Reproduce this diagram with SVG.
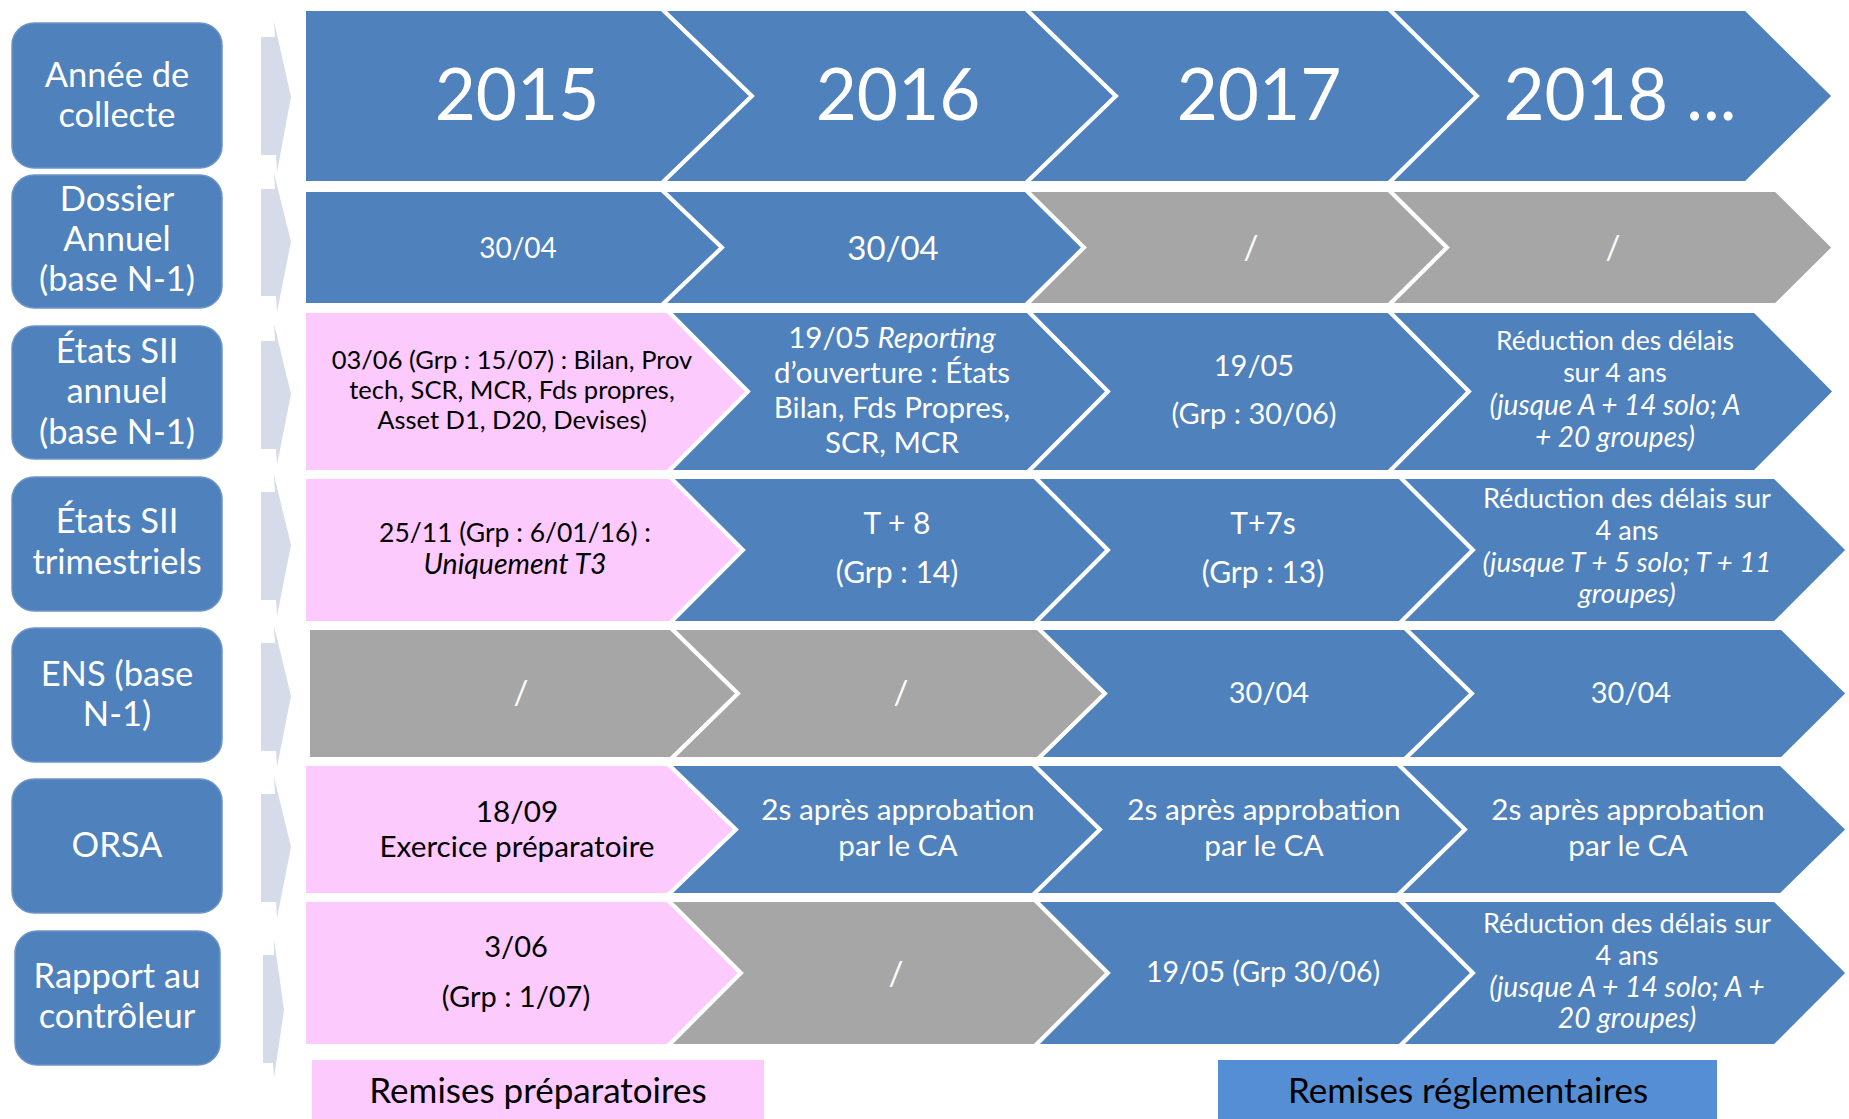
<svg xmlns="http://www.w3.org/2000/svg" width="1849" height="1119" viewBox="0 0 1849 1119">
<style>
.lbl rect{fill:#4f81bd;stroke:#6d94c8;stroke-width:1.5}
.lt{font-family:Lato,"Open Sans",sans-serif;fill:#fff;text-anchor:middle}
.bt{font-family:Lato,"Open Sans",sans-serif;fill:#000;text-anchor:middle}
.b{fill:#4f81bd;stroke:#fff;stroke-width:4;stroke-linejoin:miter}
.g{fill:#a6a6a6;stroke:#fff;stroke-width:4;stroke-linejoin:miter}
.p{fill:#fdcafd;stroke:#fff;stroke-width:4;stroke-linejoin:miter}
.arr{fill:#d5dbe8}
.i{font-style:italic}
</style>
<rect width="1849" height="1119" fill="#fff"/>

<g id="connectors">
<polygon class="arr" points="261,37 275,37 274,21 291,97 277,172 276,155 261,155"/>
<polygon class="arr" points="261,189 275,189 274,173 291,242 277,312 276,296 261,296"/>
<polygon class="arr" points="261,341 275,341 274,324 291,394 277,465 276,449 261,449"/>
<polygon class="arr" points="261,492 275,492 274,475 291,545 277,616 276,600 261,600"/>
<polygon class="arr" points="261,643 275,643 274,626 291,696 277,767 276,751 261,751"/>
<polygon class="arr" points="261,794 275,794 274,777 291,847 277,918 276,902 261,902"/>
<polygon class="arr" points="263,955 274,955 274,939 284,1010 274,1078 273,1063 263,1063"/>
</g>

<g id="label-annee" class="lbl"><rect x="12" y="23" width="210" height="145" rx="22"/>
<text class="lt" font-size="34.5"><tspan x="117" y="87">Année de</tspan><tspan x="117" y="127">collecte</tspan></text></g>
<g id="label-dossier" class="lbl"><rect x="12" y="175" width="210" height="133" rx="22"/>
<text class="lt" font-size="34.5"><tspan x="117" y="211">Dossier</tspan><tspan x="117" y="251">Annuel</tspan><tspan x="117" y="291">(base N-1)</tspan></text></g>
<g id="label-sii-annuel" class="lbl"><rect x="12" y="326" width="210" height="133" rx="22"/>
<text class="lt" font-size="34.5"><tspan x="117" y="363">États SII</tspan><tspan x="117" y="403">annuel</tspan><tspan x="117" y="444">(base N-1)</tspan></text></g>
<g id="label-sii-trim" class="lbl"><rect x="12" y="477" width="210" height="134" rx="22"/>
<text class="lt" font-size="34.5"><tspan x="117" y="533">États SII</tspan><tspan x="117" y="574">trimestriels</tspan></text></g>
<g id="label-ens" class="lbl"><rect x="12" y="628" width="210" height="134" rx="22"/>
<text class="lt" font-size="34.5"><tspan x="117" y="686">ENS (base</tspan><tspan x="117" y="726">N-1)</tspan></text></g>
<g id="label-orsa" class="lbl"><rect x="12" y="779" width="210" height="134" rx="22"/>
<text class="lt" font-size="34.5"><tspan x="117" y="857">ORSA</tspan></text></g>
<g id="label-rapport" class="lbl"><rect x="15" y="931" width="205" height="134" rx="22"/>
<text class="lt" font-size="34.5"><tspan x="117" y="988">Rapport au</tspan><tspan x="117" y="1028">contrôleur</tspan></text></g>

<!-- Row 1 -->
<g id="r1c1"><polygon class="b" points="304,9 662,9 752,96 662,183 304,183"/><text class="lt" font-size="71" x="517" y="120">2015</text></g>
<g id="r1c2"><polygon class="b" points="662,9 1026,9 1116,96 1026,183 662,183 752,96"/><text class="lt" font-size="71" x="898" y="120">2016</text></g>
<g id="r1c3"><polygon class="b" points="1026,9 1389,9 1477,96 1389,183 1026,183 1116,96"/><text class="lt" font-size="71" x="1259" y="120">2017</text></g>
<g id="r1c4"><polygon class="b" points="1389,9 1746,9 1834,96 1746,183 1389,183 1477,96"/><text class="lt" font-size="71" x="1620" y="120">2018 ...</text></g>

<!-- Row 2 -->
<g id="r2c1"><polygon class="b" points="304,190 662,190 722,247.5 662,305 304,305"/><text class="lt" font-size="28" x="518" y="258">30/04</text></g>
<g id="r2c2"><polygon class="b" points="662,190 1026,190 1084,247.5 1026,305 662,305 722,247.5"/><text class="lt" font-size="33" x="893" y="260">30/04</text></g>
<g id="r2c3"><polygon class="g" points="1026,190 1389,190 1447,247.5 1389,305 1026,305 1084,247.5"/><text class="lt" font-size="33" x="1251" y="259">/</text></g>
<g id="r2c4"><polygon class="g" points="1389,190 1776,190 1834,247.5 1776,305 1389,305 1447,247.5"/><text class="lt" font-size="33" x="1613" y="259">/</text></g>

<!-- Row 3 -->
<g id="r3c1"><polygon class="p" points="304,311 668,311 748,391.5 668,472 304,472"/>
<text class="bt" font-size="25.5"><tspan x="512" y="369">03/06 (Grp : 15/07) : Bilan, Prov</tspan><tspan x="512" y="399">tech, SCR, MCR, Fds propres,</tspan><tspan x="512" y="429">Asset D1, D20, Devises)</tspan></text></g>
<g id="r3c2"><polygon class="b" points="668,311 1028,311 1108,391.5 1028,472 668,472 748,391.5"/>
<text class="lt" font-size="29.5"><tspan x="892" y="348">19/05 <tspan class="i">Reporting</tspan></tspan><tspan x="892" y="383">d’ouverture : États</tspan><tspan x="892" y="418">Bilan, Fds Propres,</tspan><tspan x="892" y="453">SCR, MCR</tspan></text></g>
<g id="r3c3"><polygon class="b" points="1028,311 1389,311 1469,391.5 1389,472 1028,472 1108,391.5"/>
<text class="lt" font-size="29"><tspan x="1254" y="376">19/05</tspan><tspan x="1254" y="424">(Grp : 30/06)</tspan></text></g>
<g id="r3c4"><polygon class="b" points="1389,311 1755,311 1835,391.5 1755,472 1389,472 1469,391.5"/>
<text class="lt" font-size="26.5"><tspan x="1615" y="350">Réduction des délais</tspan><tspan x="1615" y="382">sur 4 ans</tspan><tspan x="1615" y="415" class="i" font-size="28">(jusque A + 14 solo; A</tspan><tspan x="1615" y="447" class="i" font-size="28">+ 20 groupes)</tspan></text></g>

<!-- Row 4 -->
<g id="r4c1"><polygon class="p" points="304,477 670,477 743,550 670,623 304,623"/>
<text class="bt" font-size="26.5"><tspan x="515" y="542">25/11 (Grp : 6/01/16) :</tspan><tspan x="515" y="574" class="i" font-size="28.5">Uniquement T3</tspan></text></g>
<g id="r4c2"><polygon class="b" points="670,477 1035,477 1108,550 1035,623 670,623 743,550"/>
<text class="lt" font-size="30"><tspan x="897" y="534">T + 8</tspan><tspan x="897" y="583">(Grp : 14)</tspan></text></g>
<g id="r4c3"><polygon class="b" points="1035,477 1400,477 1473,550 1400,623 1035,623 1108,550"/>
<text class="lt" font-size="30"><tspan x="1263" y="534">T+7s</tspan><tspan x="1263" y="583">(Grp : 13)</tspan></text></g>
<g id="r4c4"><polygon class="b" points="1400,477 1775,477 1848,550 1775,623 1400,623 1473,550"/>
<text class="lt" font-size="27.2"><tspan x="1627" y="508">Réduction des délais sur</tspan><tspan x="1627" y="540">4 ans</tspan><tspan x="1627" y="572" class="i" font-size="27.8">(jusque T + 5 solo; T + 11</tspan><tspan x="1627" y="603" class="i" font-size="27.8">groupes)</tspan></text></g>

<!-- Row 5 -->
<g id="r5c1"><polygon class="g" points="308,628 671,628 738,693.5 671,759 308,759"/><text class="lt" font-size="33" x="521" y="704">/</text></g>
<g id="r5c2"><polygon class="g" points="671,628 1038,628 1105,693.5 1038,759 671,759 738,693.5"/><text class="lt" font-size="33" x="901" y="704">/</text></g>
<g id="r5c3"><polygon class="b" points="1038,628 1405,628 1472,693.5 1405,759 1038,759 1105,693.5"/><text class="lt" font-size="29" x="1269" y="703">30/04</text></g>
<g id="r5c4"><polygon class="b" points="1405,628 1782,628 1848,693.5 1782,759 1405,759 1472,693.5"/><text class="lt" font-size="29" x="1631" y="703">30/04</text></g>

<!-- Row 6 -->
<g id="r6c1"><polygon class="p" points="304,764 668,764 736,829.5 668,895 304,895"/>
<text class="bt" font-size="29.7"><tspan x="517" y="822">18/09</tspan><tspan x="517" y="857">Exercice préparatoire</tspan></text></g>
<g id="r6c2"><polygon class="b" points="668,764 1033,764 1100,829.5 1033,895 668,895 736,829.5"/>
<text class="lt" font-size="29.7"><tspan x="898" y="820">2s après approbation</tspan><tspan x="898" y="856">par le CA</tspan></text></g>
<g id="r6c3"><polygon class="b" points="1033,764 1398,764 1465,829.5 1398,895 1033,895 1100,829.5"/>
<text class="lt" font-size="29.7"><tspan x="1264" y="820">2s après approbation</tspan><tspan x="1264" y="856">par le CA</tspan></text></g>
<g id="r6c4"><polygon class="b" points="1398,764 1781,764 1848,829.5 1781,895 1398,895 1465,829.5"/>
<text class="lt" font-size="29.7"><tspan x="1628" y="820">2s après approbation</tspan><tspan x="1628" y="856">par le CA</tspan></text></g>

<!-- Row 7 -->
<g id="r7c1"><polygon class="p" points="304,900 668,900 741,973 668,1046 304,1046"/>
<text class="bt" font-size="29"><tspan x="516" y="957">3/06</tspan><tspan x="516" y="1007">(Grp : 1/07)</tspan></text></g>
<g id="r7c2"><polygon class="g" points="668,900 1035,900 1108,973 1035,1046 668,1046 741,973"/><text class="lt" font-size="33" x="896" y="985">/</text></g>
<g id="r7c3"><polygon class="b" points="1035,900 1400,900 1473,973 1400,1046 1035,1046 1108,973"/><text class="lt" font-size="28.5" x="1263" y="982">19/05 (Grp 30/06)</text></g>
<g id="r7c4"><polygon class="b" points="1400,900 1775,900 1848,973 1775,1046 1400,1046 1473,973"/>
<text class="lt" font-size="27.2"><tspan x="1627" y="933">Réduction des délais sur</tspan><tspan x="1627" y="965">4 ans</tspan><tspan x="1627" y="997" class="i" font-size="28.3">(jusque A + 14 solo; A +</tspan><tspan x="1627" y="1028" class="i" font-size="28.3">20 groupes)</tspan></text></g>

<!-- Legend -->
<g id="legend-prep"><rect x="312" y="1060" width="452" height="59" fill="#fdcafd"/><text class="bt" font-size="35" x="538" y="1103">Remises préparatoires</text></g>
<g id="legend-regl"><rect x="1218" y="1060" width="499" height="59" fill="#558ed5"/><text class="bt" font-size="35" x="1468" y="1103">Remises réglementaires</text></g>
</svg>
